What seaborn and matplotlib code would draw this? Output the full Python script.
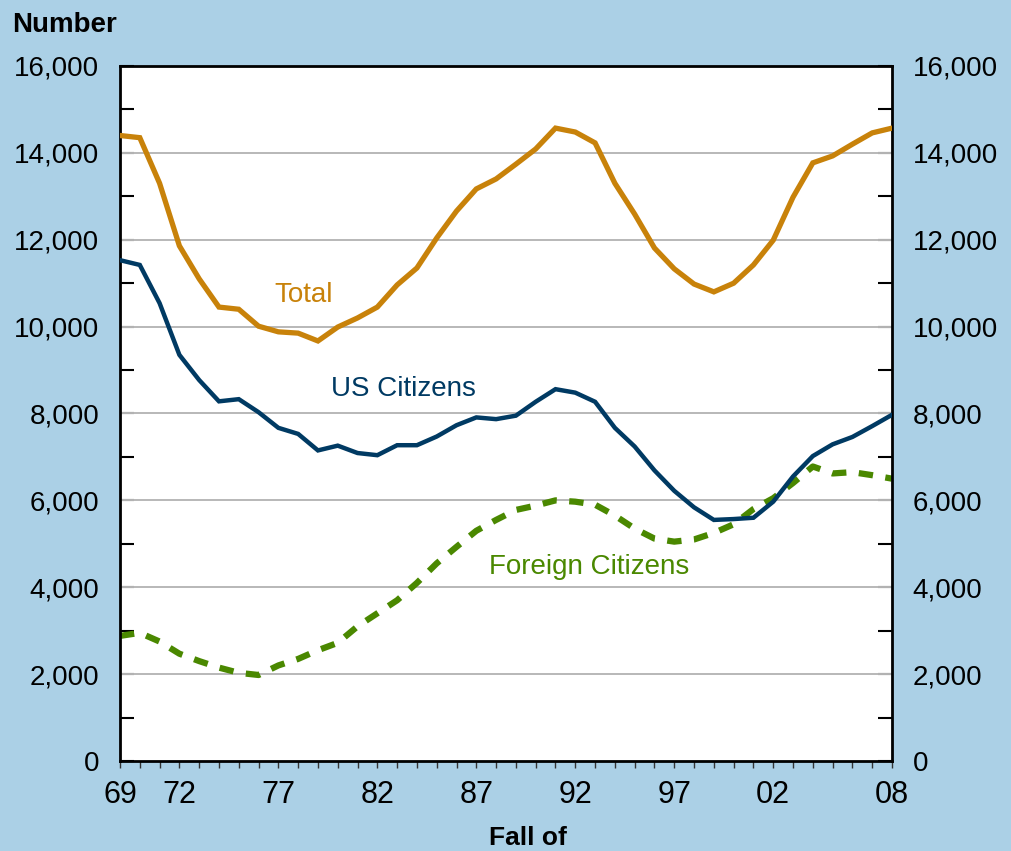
import numpy as np
import pandas as pd
import matplotlib
matplotlib.use("Agg")
import matplotlib.pyplot as plt
import seaborn as sns
from matplotlib.ticker import MultipleLocator, FixedLocator, FuncFormatter

# ---------------- data ----------------
years = list(range(1969, 2009))
total = [14400, 14350, 13300, 11860, 11100, 10450, 10400, 10010, 9880, 9850,
         9670, 9990, 10200, 10450, 10960, 11350, 12040, 12660, 13170, 13400,
         13740, 14090, 14570, 14480, 14230, 13300, 12590, 11810, 11330, 10980,
         10800, 11000, 11420, 11990, 12980, 13770, 13930, 14200, 14460, 14570]
us_citizens = [11530, 11420, 10540, 9350, 8770, 8280, 8330, 8030, 7670, 7530,
               7150, 7260, 7090, 7040, 7270, 7270, 7470, 7730, 7910, 7870,
               7950, 8270, 8560, 8480, 8270, 7670, 7240, 6690, 6220, 5840,
               5550, 5570, 5600, 5970, 6550, 7020, 7290, 7460, 7710, 7970]
foreign_citizens = [2880, 2950, 2750, 2470, 2300, 2150, 2030, 1980, 2200, 2350,
                    2550, 2720, 3100, 3400, 3700, 4100, 4550, 4930, 5300, 5550,
                    5780, 5880, 6000, 5970, 5900, 5650, 5350, 5120, 5050, 5100,
                    5250, 5450, 5800, 6050, 6400, 6780, 6620, 6650, 6580, 6500]
xtick_years = [1969, 1972, 1977, 1982, 1987, 1992, 1997, 2002, 2008]
xtick_labels = ["69", "72", "77", "82", "87", "92", "97", "02", "08"]

df = pd.DataFrame({"year": years, "Total": total,
                   "US Citizens": us_citizens,
                   "Foreign Citizens": foreign_citizens})

# ---------------- style ----------------
sns.set_style("white")
plt.rcParams['font.family'] = ['Liberation Sans', 'DejaVu Sans']
plt.rcParams['text.color'] = 'black'
plt.rcParams['xtick.color'] = 'black'
plt.rcParams['ytick.color'] = 'black'
plt.rcParams['xtick.labelcolor'] = 'black'
plt.rcParams['ytick.labelcolor'] = 'black'

BG = "#abd0e6"
C_TOTAL = "#c8820a"
C_US = "#003a63"
C_FOR = "#4a8800"

fig = plt.figure(figsize=(10.11, 8.51), dpi=100, facecolor=BG)
ax = fig.add_axes([120 / 1011, 1 - 761 / 851, 772 / 1011, 695 / 851])
ax.set_facecolor("white")

# gridlines
for v in range(2000, 16000, 2000):
    ax.axhline(v, color="#b8b8b8", lw=1.4, zorder=1)

sns.lineplot(data=df, x="year", y="Total", ax=ax, color=C_TOTAL, lw=3.8,
             zorder=3, solid_joinstyle="miter")
sns.lineplot(data=df, x="year", y="US Citizens", ax=ax, color=C_US, lw=3.2,
             zorder=3, solid_joinstyle="miter")
sns.lineplot(data=df, x="year", y="Foreign Citizens", ax=ax, color=C_FOR,
             lw=4.5, zorder=2, linestyle=(0, (2.3, 2.0)))

ax.set_xlim(1969, 2008)
ax.set_ylim(0, 16000)
ax.set_xlabel("")
ax.set_ylabel("")

# spines
for s in ax.spines.values():
    s.set_color("black")
    s.set_linewidth(2)
    s.set_visible(True)

# x ticks
ax.xaxis.set_major_locator(FixedLocator(xtick_years))
ax.set_xticklabels(xtick_labels)
ax.xaxis.set_minor_locator(MultipleLocator(1))
ax.tick_params(axis="x", which="both", direction="out", length=5, width=1,
               color="#333333", bottom=True, pad=9, labelsize=22,
               labelcolor="black")

# y ticks (left + right)
ax.yaxis.set_major_locator(MultipleLocator(2000))
ax.yaxis.set_minor_locator(MultipleLocator(1000))
ax.yaxis.set_major_formatter(FuncFormatter(lambda v, p: f"{int(v):,}"))
ax.tick_params(axis="y", which="both", direction="in", length=10, width=1.5,
               color="black", left=True, right=True, labelleft=True,
               labelright=True, labelsize=20, pad=15, labelcolor="black")

# series labels
ax.text(1978.3, 10720, "Total", color=C_TOTAL, fontsize=20, ha="center", va="center")
ax.text(1983.3, 8570, "US Citizens", color=C_US, fontsize=20, ha="center", va="center")
ax.text(1992.7, 4470, "Foreign Citizens", color=C_FOR, fontsize=20, ha="center", va="center")

# titles
fig.text(12 / 1011, 1 - 25 / 851, "Number", fontsize=20, fontweight="bold",
         ha="left", va="center", color="black")
fig.text(528 / 1011, 1 - 838 / 851, "Fall of", fontsize=19, fontweight="bold",
         ha="center", va="center", color="black")

fig.savefig("out.png", dpi=100, facecolor=BG)
